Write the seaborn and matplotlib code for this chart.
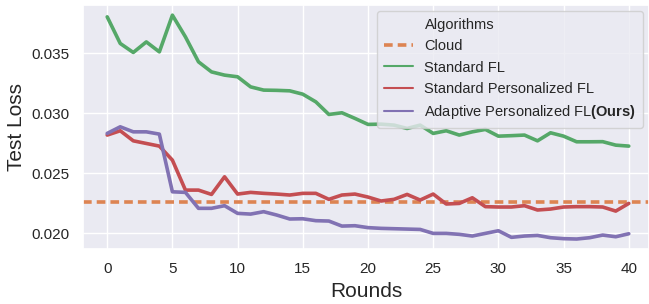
import numpy as np
import pandas as pd
import matplotlib
matplotlib.use("Agg")
import matplotlib.pyplot as plt
from matplotlib.lines import Line2D
import seaborn as sns

rounds = list(range(41))
standard_fl = [0.03803, 0.03581, 0.03506, 0.03594, 0.03511, 0.03817, 0.03636, 0.03428, 0.03344, 0.03317,
               0.03303, 0.03219, 0.03192, 0.03190, 0.03186, 0.03158, 0.03094, 0.02989, 0.03003, 0.02956,
               0.02906, 0.02908, 0.02900, 0.02872, 0.02900, 0.02831, 0.02853, 0.02817, 0.02844, 0.02864,
               0.02808, 0.02812, 0.02817, 0.02769, 0.02836, 0.02808, 0.02761, 0.02761, 0.02762, 0.02733,
               0.02725]
standard_pfl = [0.02817, 0.02853, 0.02769, 0.02747, 0.02725, 0.02608, 0.02358, 0.02358, 0.02322, 0.02469,
                0.02325, 0.02339, 0.02331, 0.02325, 0.02317, 0.02331, 0.02331, 0.02281, 0.02317, 0.02325,
                0.02300, 0.02267, 0.02281, 0.02322, 0.02275, 0.02325, 0.02242, 0.02247, 0.02294, 0.02220,
                0.02217, 0.02217, 0.02228, 0.02192, 0.02200, 0.02217, 0.02220, 0.02220, 0.02217, 0.02183,
                0.02247]
adaptive_pfl = [0.02831, 0.02886, 0.02844, 0.02844, 0.02825, 0.02344, 0.02339, 0.02206, 0.02206, 0.02228,
                0.02164, 0.02158, 0.02178, 0.02150, 0.02117, 0.02119, 0.02103, 0.02100, 0.02058, 0.02061,
                0.02045, 0.02039, 0.02036, 0.02033, 0.02030, 0.01997, 0.01997, 0.01989, 0.01975, 0.01997,
                0.02019, 0.01964, 0.01975, 0.01980, 0.01961, 0.01953, 0.01950, 0.01961, 0.01983, 0.01969,
                0.01994]
cloud_loss = 0.0226

series_names = ["Standard FL", "Standard Personalized FL", "Adaptive Personalized FL"]
legend_labels = ["Algorithms", "Cloud", "Standard FL", "Standard Personalized FL",
                 r"Adaptive Personalized FL$\mathbf{(Ours)}$"]

sns.set_theme(style="darkgrid")
plt.rcParams["font.family"] = ["Liberation Sans", "DejaVu Sans"]
plt.rcParams["mathtext.fontset"] = "custom"
plt.rcParams["mathtext.bf"] = "Liberation Sans:bold"
plt.rcParams["mathtext.rm"] = "Liberation Sans"

pal = sns.color_palette("deep")
c_cloud, c_green, c_red, c_purple = pal[1], pal[2], pal[3], pal[4]

df = pd.DataFrame({
    "Round": rounds * 3,
    "Loss": standard_fl + standard_pfl + adaptive_pfl,
    "Algorithm": sum([[n] * len(rounds) for n in series_names], []),
})

fig = plt.figure(figsize=(6.49, 3.04), dpi=100)
ax = fig.add_axes([0.128, 0.181, 0.872, 0.803])

sns.lineplot(data=df, x="Round", y="Loss", hue="Algorithm",
             palette=[c_green, c_red, c_purple], linewidth=2.6, ax=ax, legend=False)
ax.axhline(cloud_loss, color=c_cloud, linewidth=2.6, linestyle=(0, (2.4, 1.4)), zorder=1.5)

ax.set_xlim(-1.85, 41.55)
ax.set_ylim(0.01867, 0.03903)
ax.set_xticks([0, 5, 10, 15, 20, 25, 30, 35, 40])
ax.set_yticks([0.020, 0.025, 0.030, 0.035])
ax.set_yticklabels(["0.020", "0.025", "0.030", "0.035"])
ax.tick_params(axis="both", labelsize=11)
ax.set_xlabel("Rounds", fontsize=15)
ax.set_ylabel("Test Loss", fontsize=15)

handles = [
    Line2D([], [], color="none"),
    Line2D([], [], color=c_cloud, linewidth=2.6, linestyle=(0, (2.4, 1.4))),
    Line2D([], [], color=c_green, linewidth=1.5),
    Line2D([], [], color=c_red, linewidth=1.5),
    Line2D([], [], color=c_purple, linewidth=1.5),
]
leg = ax.legend(handles, legend_labels, loc="upper right", fontsize=10.5,
                bbox_to_anchor=(1.002, 1.003), handlelength=2.0, labelspacing=0.5,
                borderpad=0.45)

fig.savefig("out.png", dpi=100)
